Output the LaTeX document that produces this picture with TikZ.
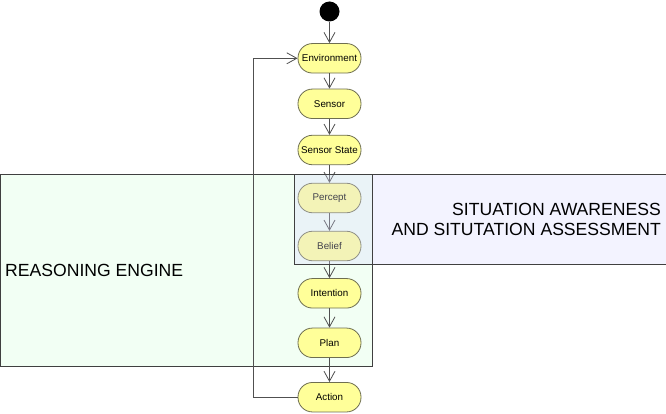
\documentclass[tikz,border=0pt]{standalone}
\usepackage{fontspec}
\setmainfont{Liberation Sans}
\usetikzlibrary{arrows.meta}
\definecolor{nodefill}{HTML}{FFFF99}
\definecolor{nodeborder}{HTML}{6E6E50}
\definecolor{greenfill}{HTML}{F2FFF4}
\definecolor{bluefill}{HTML}{DADAFF}
\definecolor{frame}{HTML}{404040}
\definecolor{conn}{HTML}{505050}
\begin{document}
\begin{tikzpicture}[x=1pt,y=-1pt,
  act/.style={draw=nodeborder, fill=nodefill, rounded corners=14.5pt, minimum width=63pt, minimum height=29.5pt, inner sep=0pt, font=\fontsize{9.8}{11}\selectfont, line width=0.8pt},
  flow/.style={draw=conn, line width=0.8pt, -{Straight Barb[length=10pt,width=11pt]}},
  region/.style={draw=frame, line width=0.8pt},
  biglabel/.style={font=\fontsize{17.6}{20}\selectfont, inner sep=0pt}]
\useasboundingbox (0,0) rectangle (666,414);
\fill[white] (0,0) rectangle (666,414);
% reasoning engine region (below nodes)
\draw[region, fill=greenfill] (0.5,174.3) rectangle (372,366);
\node[biglabel, anchor=west] (re) at (5,270.3) {REASONING ENGINE};
% nodes
\node[circle, fill=black, minimum size=20pt, inner sep=0pt] (start) at (329.5,11.5) {};
\node[act] (env) at (329.5,58.3) {Environment};
\node[act] (sensor) at (329.5,103.8) {Sensor};
\node[act] (sstate) at (329.5,150) {Sensor State};
\node[act] (percept) at (329.5,198) {Percept};
\node[act] (belief) at (329.5,246) {Belief};
\node[act] (intent) at (329.5,293.3) {Intention};
\node[act] (plan) at (329.5,342.8) {Plan};
\node[act] (action) at (329.5,397.2) {Action};
\coordinate (loopc) at (253.3,0);
% connectors
\draw[flow] (start) -- (env);
\draw[flow] (env) -- (sensor);
\draw[flow] (sensor) -- (sstate);
\draw[flow] (sstate) -- (percept);
\draw[flow] (percept) -- (belief);
\draw[flow] (belief) -- (intent);
\draw[flow] (intent) -- (plan);
\draw[flow] (plan) -- (action);
\draw[flow] (action.west) -- (action.west -| loopc) |- (env.west);
% situation awareness region (translucent, above nodes)
\fill[bluefill, fill opacity=0.3] (294,174.3) rectangle (666.5,264);
\draw[region] (294,174.3) rectangle (666.5,264);
\draw[region] (372,174.3) -- (372,264);
\node[biglabel, anchor=east, align=right] (sa) at (661,219) {SITUATION AWARENESS\\AND SITUTATION ASSESSMENT};
\end{tikzpicture}
\end{document}
